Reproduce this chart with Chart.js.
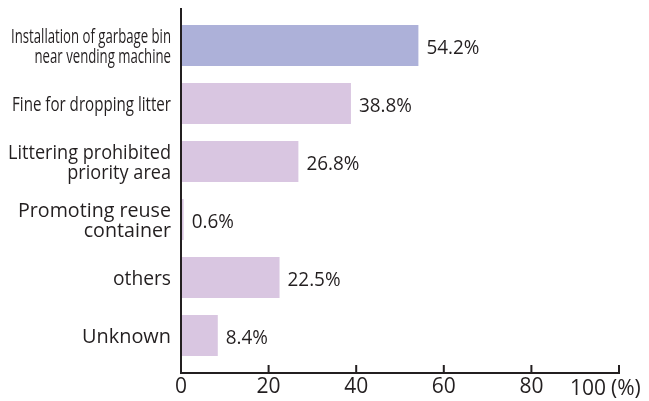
<!DOCTYPE html>
<html>
<head>
<meta charset="utf-8">
<script src="https://cdn.jsdelivr.net/npm/chart.js@4/dist/chart.umd.min.js"></script>
<style>
  html, body { margin: 0; padding: 0; background: #fff; }
  #wrap { width: 649px; height: 401px; }
</style>
</head>
<body>
<div id="wrap"><canvas id="grafico"></canvas></div>
<script>
// Datos
const categorias = [
    ["Installation of garbage bin", "near vending machine"],
    "Fine for dropping litter",
    ["Littering prohibited", "priority area"],
    ["Promoting reuse", "container"],
    "others",
    "Unknown"
];
const valores = [54.2, 38.8, 26.8, 0.6, 22.5, 8.4];
const ticksX = [0, 20, 40, 60, 80, 100];

const colorTexto = "#231f20";
const fuente = "'Open Sans', 'Noto Sans', sans-serif";
const colores = valores.map((v, i) => i === 0 ? "#adb1d9" : "#d9c6e1");
// Ancho (px) de la primera línea de cada etiqueta: la fuente original es condensada
const anchoEtiqueta = [160, 159, 163, 153, 58, 89];

// Ejes, etiquetas de categoría y etiquetas de valor dibujados a mano
const ejesPlugin = {
    id: "ejes",
    afterDatasetsDraw(chart) {
        const ctx = chart.ctx;
        const area = chart.chartArea;
        const x = chart.scales.x;
        const y = chart.scales.y;
        const yBase = area.bottom + 8.5;
        ctx.save();
        ctx.strokeStyle = colorTexto;
        ctx.lineWidth = 2;
        ctx.beginPath();
        ctx.moveTo(area.left, area.top - 8.5);
        ctx.lineTo(area.left, yBase);
        ctx.lineTo(x.getPixelForValue(100) + 1, yBase);
        ticksX.forEach(t => {
            if (t === 0) return;
            const px = x.getPixelForValue(t);
            ctx.moveTo(px, yBase);
            ctx.lineTo(px, yBase - 8);
        });
        ctx.stroke();

        ctx.fillStyle = colorTexto;
        ctx.font = "20px " + fuente;
        ctx.textBaseline = "alphabetic";

        // Etiquetas de categoría (alineadas a la derecha)
        ctx.textAlign = "right";
        chart.data.labels.forEach((lab, i) => {
            const lineas = Array.isArray(lab) ? lab : [lab];
            const centro = y.getPixelForTick(i) + 0.5;
            const k = anchoEtiqueta[i] / ctx.measureText(lineas[0]).width;
            lineas.forEach((txt, j) => {
                const base = centro + (j - (lineas.length - 1) / 2) * 19.5 + 7;
                ctx.save();
                ctx.translate(area.left - 10, base);
                ctx.scale(k, 1);
                ctx.fillText(txt, 0, 0);
                ctx.restore();
            });
        });

        // Etiquetas de porcentaje
        ctx.textAlign = "left";
        const kv = 53 / ctx.measureText("54.2%").width;
        const meta = chart.getDatasetMeta(0);
        meta.data.forEach((bar, i) => {
            ctx.save();
            ctx.translate(bar.x + 8, bar.y + 8);
            ctx.scale(kv, 1);
            ctx.fillText(valores[i].toFixed(1) + "%", 0, 0);
            ctx.restore();
        });

        // Última etiqueta del eje con unidad
        ctx.font = "21px " + fuente;
        const p100 = x.getPixelForValue(100);
        ctx.fillText("100", p100 - 49, 395);
        ctx.fillText("(%)", p100 - 8, 395);
        ctx.restore();
    }
};

const ctx = document.getElementById("grafico").getContext("2d");
new Chart(ctx, {
    type: "bar",
    data: {
        labels: categorias,
        datasets: [{
            data: valores,
            backgroundColor: colores,
            borderWidth: 0,
            categoryPercentage: 1,
            barPercentage: 0.71
        }]
    },
    options: {
        indexAxis: "y",
        responsive: true,
        maintainAspectRatio: false,
        animation: false,
        events: [],
        layout: { padding: { top: 16.5, right: 30, left: 0, bottom: 0 } },
        plugins: {
            legend: { display: false },
            tooltip: { enabled: false }
        },
        scales: {
            x: {
                min: 0,
                max: 100,
                afterBuildTicks: scale => { scale.ticks = ticksX.map(v => ({ value: v })); },
                afterFit: scale => { scale.height = 36.5; },
                grid: { display: false, drawTicks: false },
                border: { display: false },
                ticks: {
                    padding: 10,
                    color: colorTexto,
                    font: { family: fuente, size: 21 },
                    callback: v => v === 100 ? "" : String(v)
                }
            },
            y: {
                afterFit: scale => { scale.width = 181; },
                grid: { display: false, drawTicks: false },
                border: { display: false },
                ticks: { display: false }
            }
        }
    },
    plugins: [ejesPlugin]
});
</script>
</body>
</html>
